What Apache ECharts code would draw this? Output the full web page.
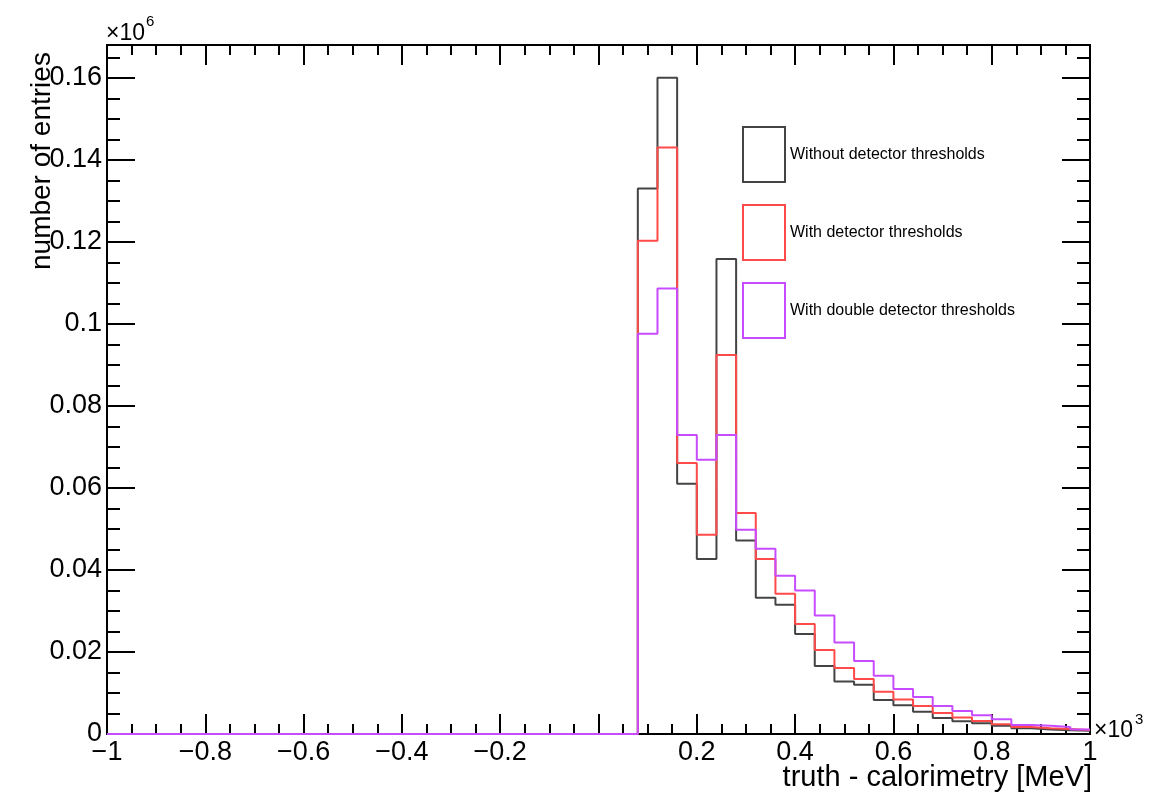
<!DOCTYPE html>
<html>
<head>
<meta charset="utf-8">
<script src="https://cdn.jsdelivr.net/npm/echarts@6/dist/echarts.min.js"></script>
<style>
  html, body { margin: 0; padding: 0; background: #fff; }
  #chart { width: 1154px; height: 797px; }
</style>
</head>
<body>
<div id="chart"></div>
<script>
// histogram binning: 50 bins of 0.04 (x10^3 MeV) between -1 and 1
var xMin = -1, xMax = 1, binWidth = 0.04
var seriesNames = ['Without detector thresholds', 'With detector thresholds', 'With double detector thresholds']
var seriesColors = ['#444444', '#ff4a4a', '#c84cff']

// bin contents (x10^6 entries), bins 0..49
var withoutThr = [0,0,0,0,0,0,0,0,0,0, 0,0,0,0,0,0,0,0,0,0, 0,0,0,0,0,0,0,
    0.133, 0.160, 0.061, 0.0427, 0.1158, 0.0472, 0.0332, 0.0315, 0.0244, 0.0166,
    0.0128, 0.0120, 0.0083, 0.0070, 0.0054, 0.0039, 0.0031, 0.0026, 0.0020, 0.0014,
    0.0011, 0.0009, 0.0008]
var withThr = [0,0,0,0,0,0,0,0,0,0, 0,0,0,0,0,0,0,0,0,0, 0,0,0,0,0,0,0,
    0.1203, 0.143, 0.0661, 0.0486, 0.0924, 0.0539, 0.0427, 0.0342, 0.0268, 0.0205,
    0.0161, 0.0134, 0.0103, 0.0084, 0.0068, 0.0051, 0.0040, 0.0032, 0.0024, 0.0017,
    0.0014, 0.0012, 0.0010]
var doubleThr = [0,0,0,0,0,0,0,0,0,0, 0,0,0,0,0,0,0,0,0,0, 0,0,0,0,0,0,0,
    0.0976, 0.1086, 0.0729, 0.0669, 0.0729, 0.0498, 0.0452, 0.0386, 0.0350, 0.0289,
    0.0223, 0.0178, 0.0142, 0.0110, 0.0090, 0.0068, 0.0056, 0.0046, 0.0036, 0.0022,
    0.0020, 0.0017, 0.0011]

// y axis range
var yMin = 0, yMax = 0.168, yInterval = 0.02

// turn bin contents into a step outline, like ROOT draws a TH1
function outline(vals) {
    var pts = []
    for (var i = 0; i < vals.length; i++) {
        var lo = +(xMin + i * binWidth).toFixed(4)
        var hi = +(lo + binWidth).toFixed(4)
        pts.push([lo, vals[i]], [hi, vals[i]])
    }
    return pts
}

var font = 'Liberation Sans, Arial, Helvetica, sans-serif'
var tickStyle = { color: '#000', width: 2 }

function xLabel(v) {
    if (Math.abs(v) < 1e-9) return ''
    var s = String(+v.toFixed(2))
    return v < 0 ? '\u2212' + s.replace('-', '') : s
}
function yLabel(v) {
    if (v > 0.165) return ''
    return String(+v.toFixed(2))
}

var allData = [withoutThr, withThr, doubleThr]
var series = []
for (var k = 0; k < allData.length; k++) {
    series.push({
        name: seriesNames[k],
        type: 'line',
        data: outline(allData[k]),
        symbol: 'none',
        color: seriesColors[k],
        lineStyle: { width: 2, color: seriesColors[k] },
        z: 2 + k
    })
}

var chart = echarts.init(document.getElementById('chart'), null, { renderer: 'canvas' })
var option = {
    animation: false,
    backgroundColor: '#fff',
    textStyle: { fontFamily: font },
    grid: { left: 107, right: 64, top: 45, bottom: 63, show: true, borderColor: '#000', borderWidth: 2 },
    legend: {
        orient: 'vertical',
        left: 737, top: 121,
        itemWidth: 42, itemHeight: 55, itemGap: 21,
        textStyle: { fontSize: 16, color: '#000', fontFamily: font },
        selectedMode: false,
        data: seriesNames.map(function (n, i) {
            return { name: n, icon: 'rect', itemStyle: { color: '#fff', borderColor: seriesColors[i], borderWidth: 2 } }
        })
    },
    xAxis: [{
        type: 'value', min: xMin, max: xMax, interval: 0.2,
        axisLine: { show: true, onZero: false, lineStyle: tickStyle },
        axisTick: { show: true, inside: true, length: 20, lineStyle: tickStyle },
        minorTick: { show: true, splitNumber: 4, length: 10, lineStyle: tickStyle },
        splitLine: { show: false },
        axisLabel: { formatter: xLabel, fontSize: 27, color: '#000', margin: 5, fontFamily: font }
    }, {
        type: 'value', position: 'top', min: xMin, max: xMax, interval: 0.2,
        axisLine: { show: true, onZero: false, lineStyle: tickStyle },
        axisTick: { show: true, inside: true, length: 20, lineStyle: tickStyle },
        minorTick: { show: true, splitNumber: 4, length: 10, lineStyle: tickStyle },
        splitLine: { show: false },
        axisLabel: { show: false }
    }],
    yAxis: [{
        type: 'value', min: yMin, max: yMax, interval: yInterval,
        axisLine: { show: true, onZero: false, lineStyle: tickStyle },
        axisTick: { show: true, inside: true, length: 28, lineStyle: tickStyle },
        minorTick: { show: true, splitNumber: 4, length: 13, lineStyle: tickStyle },
        splitLine: { show: false },
        axisLabel: { formatter: yLabel, fontSize: 27, color: '#000', margin: 5, fontFamily: font, showMaxLabel: false }
    }, {
        type: 'value', position: 'right', min: yMin, max: yMax, interval: yInterval,
        axisLine: { show: true, onZero: false, lineStyle: tickStyle },
        axisTick: { show: true, inside: true, length: 28, lineStyle: tickStyle },
        minorTick: { show: true, splitNumber: 4, length: 13, lineStyle: tickStyle },
        splitLine: { show: false },
        axisLabel: { show: false }
    }],
    graphic: [
        { type: 'text', x: 42, y: 270, rotation: Math.PI / 2, z: 10,
          style: { text: 'number of entries', font: '28px ' + font, fill: '#000', textAlign: 'left', textVerticalAlign: 'middle' } },
        { type: 'text', x: 106, y: 22, style: { text: '\u00d710', font: '23px ' + font, fill: '#000' } },
        { type: 'text', x: 146, y: 14, style: { text: '6', font: '15px ' + font, fill: '#000' } },
        { type: 'text', x: 1094, y: 719, style: { text: '\u00d710', font: '23px ' + font, fill: '#000' } },
        { type: 'text', x: 1135, y: 712, style: { text: '3', font: '15px ' + font, fill: '#000' } },
        { type: 'text', x: 1092, y: 763, style: { text: 'truth - calorimetry [MeV]', font: '29px ' + font, fill: '#000', textAlign: 'right' } }
    ],
    series: series
}
chart.setOption(option)
</script>
</body>
</html>
